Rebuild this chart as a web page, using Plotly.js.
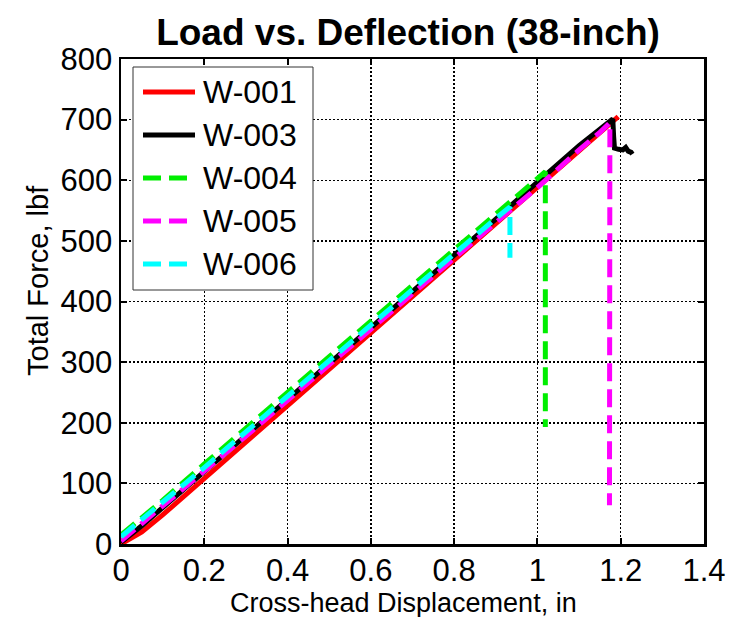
<!DOCTYPE html>
<html>
<head>
<meta charset="utf-8">
<script src="https://cdn.plot.ly/plotly-3.0.1.min.js"></script>
<style>
  html, body { margin: 0; padding: 0; background: #fff; }
  #chart { width: 739px; height: 617px; }
</style>
</head>
<body>
<div id="chart"></div>
<script>
// Load-deflection records for the 38-inch specimens (displacement in inches, force in lbf)
const seriesNames = ['W-001', 'W-003', 'W-004', 'W-005', 'W-006'];

const w001Disp  = [0, 0.05, 0.1, 0.2, 0.3, 0.4, 0.5, 0.6, 0.7, 0.8, 0.9, 1.0, 1.05, 1.1, 1.15, 1.194];
const w001Force = [0, 20, 48, 108, 168, 228, 288, 348, 408, 468, 528, 586, 617, 648, 678, 705];

const w003Disp  = [0, 0.05, 0.1, 0.2, 0.3, 0.4, 0.5, 0.6, 0.7, 0.8, 0.9, 1.0, 1.05, 1.1, 1.15, 1.181, 1.183, 1.185, 1.195, 1.205, 1.212, 1.218, 1.225, 1.228];
const w003Force = [3, 30, 60, 120, 179, 238, 298, 357, 416, 476, 536, 597, 628, 657, 684, 701, 672, 653, 651, 650, 654, 648, 646, 643];

const w004Disp  = [0, 0.1, 0.2, 0.3, 0.4, 0.5, 0.6, 0.7, 0.8, 0.9, 1.0, 1.019, 1.019];
const w004Force = [15, 72, 132, 190, 250, 309, 368, 426, 486, 545, 603, 614, 193];

const w005Disp  = [0, 0.1, 0.2, 0.3, 0.4, 0.5, 0.6, 0.7, 0.8, 0.9, 1.0, 1.05, 1.1, 1.15, 1.174, 1.173];
const w005Force = [5, 62, 120, 178, 237, 296, 354, 413, 472, 530, 588, 620, 650, 679, 695, 64];

const w006Disp  = [0, 0.1, 0.2, 0.3, 0.4, 0.5, 0.6, 0.7, 0.8, 0.9, 0.934, 0.934];
const w006Force = [12, 68, 126, 185, 244, 302, 361, 420, 478, 537, 556, 472];

const xTickVals = [0, 0.2, 0.4, 0.6, 0.8, 1.0, 1.2, 1.4];
const xTickText = ['0', '0.2', '0.4', '0.6', '0.8', '1', '1.2', '1.4'];
const yTickVals = [0, 100, 200, 300, 400, 500, 600, 700, 800];
const yTickText = ['0', '100', '200', '300', '400', '500', '600', '700', '800'];

const chartTitle = 'Load vs. Deflection (38-inch)';
const xLabel = 'Cross-head Displacement, in';
const yLabel = 'Total Force, lbf';

// Line styles per specimen
const styles = [
  { color: '#ff0000', dash: 'solid' },
  { color: '#000000', dash: 'solid' },
  { color: '#00ee00', dash: '18px,8px' },
  { color: '#ff00ff', dash: '18px,8px' },
  { color: '#00ffff', dash: '18px,8px' }
];
const LINE_W = 5;

const xs = [w001Disp, w003Disp, w004Disp, w005Disp, w006Disp];
const ys = [w001Force, w003Force, w004Force, w005Force, w006Force];

const traces = seriesNames.map((name, i) => ({
  type: 'scatter',
  mode: 'lines',
  name: name,
  x: xs[i],
  y: ys[i],
  showlegend: false,
  line: { color: styles[i].color, width: LINE_W, dash: styles[i].dash }
}));

// Plot-area geometry (pixels) used to place the boxed legend and axis labels
const M = { l: 121, r: 35, t: 59, b: 73 };
const W = 739, H = 617;
const PW = W - M.l - M.r, PH = H - M.t - M.b;
const px = v => (v - M.l) / PW;
const py = v => (H - M.b - v) / PH;

const FONT = 'Liberation Sans, Arial, Helvetica, sans-serif';

const shapes = [{
  type: 'rect', xref: 'paper', yref: 'paper',
  x0: px(133), x1: px(313), y0: py(290), y1: py(67),
  fillcolor: '#ffffff', line: { color: '#333333', width: 1 }, layer: 'above'
}];
const annotations = [];
seriesNames.forEach((name, i) => {
  const yy = py(92 + i * 43);
  shapes.push({
    type: 'line', xref: 'paper', yref: 'paper',
    x0: px(143), x1: px(195), y0: yy, y1: yy,
    line: { color: styles[i].color, width: LINE_W, dash: styles[i].dash }, layer: 'above'
  });
  annotations.push({
    xref: 'paper', yref: 'paper', x: px(201), y: yy,
    xanchor: 'left', yanchor: 'middle', showarrow: false,
    text: name, font: { family: FONT, size: 32, color: '#000' }
  });
});

// Axis labels
annotations.push({
  xref: 'paper', yref: 'paper', x: px(403), y: py(603),
  xanchor: 'center', yanchor: 'middle', showarrow: false,
  text: xLabel, font: { family: FONT, size: 27, color: '#000' }
});
annotations.push({
  xref: 'paper', yref: 'paper', x: px(38), y: py(281),
  xanchor: 'center', yanchor: 'middle', showarrow: false, textangle: -90,
  text: yLabel, font: { family: FONT, size: 29, color: '#000' }
});

const axisCommon = {
  showline: true, linecolor: '#000', linewidth: 2.5, mirror: 'ticks',
  ticks: 'inside', ticklen: 6, tickwidth: 2, tickcolor: '#000',
  showgrid: true, gridcolor: '#000', gridwidth: 1.5, griddash: '2px,2px',
  zeroline: false, tickfont: { family: FONT, size: 31, color: '#000' }
};

const layout = {
  width: W, height: H,
  margin: M,
  paper_bgcolor: '#fff', plot_bgcolor: '#fff',
  font: { family: FONT, color: '#000' },
  title: {
    text: '<b>' + chartTitle + '</b>',
    font: { family: FONT, size: 37, color: '#000' },
    xref: 'container', yref: 'container', x: 408 / W, y: 1 - 32 / H,
    xanchor: 'center', yanchor: 'middle'
  },
  xaxis: Object.assign({}, axisCommon, {
    range: [0, 1.4], tickmode: 'array', tickvals: xTickVals, ticktext: xTickText,
    ticklabelstandoff: -3
  }),
  yaxis: Object.assign({}, axisCommon, {
    range: [0, 800], tickmode: 'array', tickvals: yTickVals, ticktext: yTickText
  }),
  shapes: shapes,
  annotations: annotations
};

Plotly.newPlot('chart', traces, layout, { displayModeBar: false, staticPlot: true });
</script>
</body>
</html>
